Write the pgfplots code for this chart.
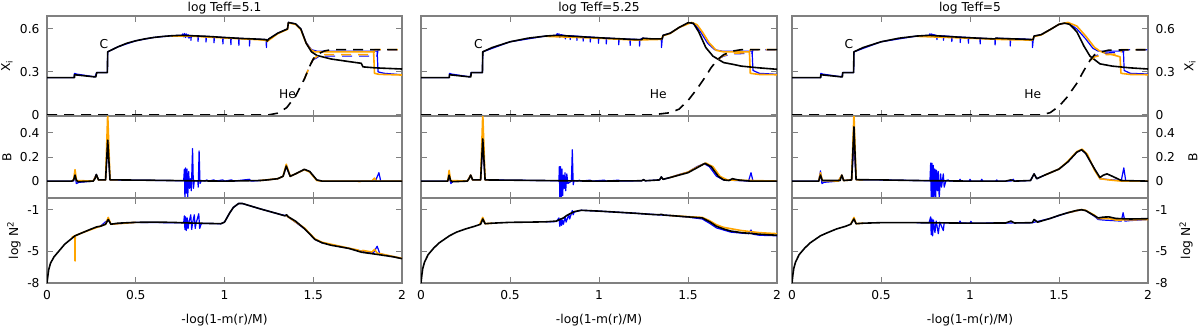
\documentclass[border=0pt]{standalone}
\usepackage{pgfplots}
\pgfplotsset{compat=1.18}
\usepackage{fontspec}
\setmainfont{DejaVu Sans}
\definecolor{fr}{RGB}{128,128,128}
\definecolor{org}{RGB}{255,165,0}
\definecolor{blu}{RGB}{0,0,255}
\newcommand\fs{\fontsize{12.3}{14}\selectfont}

\pgfplotsset{
  every axis title shift=0pt,
  pan/.style={scale only axis, xmin=0, xmax=2, xtick={0,0.5,1,1.5,2}, xticklabels={},
    tick align=inside, xtick pos=both, ytick pos=both, major tick length=6bp,
    axis line style={draw=fr, line width=1.2bp}, every tick/.style={draw=fr, line width=1bp},
    tick label style={font=\fs}, label style={font=\fs}, title style={font=\fs},
    unbounded coords=jump},
  top/.style={pan, height=100bp, ymin=-0.008, ymax=0.69, ytick={0,0.3,0.6}, yticklabels={0,0.3,0.6}},
  mid/.style={pan, height=82bp, ymin=-0.14, ymax=0.54, ytick={0,0.2,0.4}, yticklabels={0,0.2,0.4}},
  bot/.style={pan, height=85bp, ymin=-8, ymax=0.1, ytick={-8,-5,-1}, yticklabels={-8,-5,-1},
    xticklabels={0,0.5,1,1.5,2}, xticklabel style={yshift=-4bp},
    xlabel={-log(1-m(r)/M)}, xlabel style={at={(axis description cs:0.5,0)}, anchor=center, yshift=-37bp}},
  ttl/.style={title={#1}, title style={at={(axis description cs:0.5,1)}, anchor=center, yshift=8bp}},
  c1/.style={width=355bp, yticklabel style={xshift=-4bp}},
  c2/.style={width=356bp, yticklabels={}},
  c3/.style={width=356bp, yticklabel pos=right, yticklabel style={xshift=4bp}},
  yl/.style 2 args={ylabel={#1}, ylabel style={at={(axis description cs:#2,0.5)}, anchor=center}},
  blk/.style={black, line width=1.6bp, line join=round},
  orl/.style={org, line width=1.6bp, line join=round},
  bll/.style={blu, line width=1.2bp, line join=round},
  dsh/.style={dash pattern=on 10bp off 7bp},
}

\begin{document}
\begin{tikzpicture}
\path[use as bounding box] (0,0) rectangle (1200bp,-326bp);

% ---------------- column 1: log Teff=5.1 ----------------
\begin{axis}[top, c1, ttl={log Teff=5.1}, yl={X\textsubscript{i}}{-0.113}, at={(47bp,-116bp)}, anchor=south west]
\addplot[bll] coordinates {(0,0.26)(0.152,0.26)(0.155,0.29)(0.165,0.285)(0.27,0.265)(0.28,0.295)(0.34,0.295)(0.342,0.44)(0.4,0.475)(0.5,0.517)(0.6,0.54)(0.7,0.552)(0.76,0.555)(0.765,0.565)(0.77,0.545)(0.775,0.568)(0.78,0.54)(0.785,0.565)(0.79,0.545)(0.795,0.56)(0.8,0.535)(0.805,0.555)(0.81,0.552)(0.811,0.52)(0.813,0.552)(0.85,0.55)(0.851,0.513)(0.853,0.549)(0.895,0.547)(0.896,0.508)(0.898,0.547)(0.94,0.544)(0.941,0.503)(0.943,0.544)(0.99,0.54)(0.991,0.495)(0.993,0.54)(1.035,0.537)(1.036,0.49)(1.038,0.537)(1.08,0.534)(1.081,0.485)(1.083,0.534)(1.14,0.53)(1.141,0.48)(1.143,0.53)(1.235,0.525)(1.236,0.47)(1.238,0.52)(1.3,0.57)(1.355,0.6)(1.36,0.645)(1.4,0.635)(1.43,0.6)(1.46,0.505)(1.49,0.455)(1.52,0.445)(1.86,0.445)(1.865,0.3)(1.9,0.29)(2,0.28)};
\addplot[orl] coordinates {(0.7,0.55)(0.8,0.55)(1.0,0.537)(1.2,0.524)(1.235,0.52)(1.24,0.512)(1.3,0.567)(1.355,0.597)(1.36,0.642)(1.4,0.632)(1.43,0.595)(1.46,0.5)(1.49,0.45)(1.51,0.44)(1.84,0.44)(1.845,0.29)(1.87,0.283)(2,0.278)};
\addplot[blk] coordinates {(0,0.26)(0.155,0.26)(0.155,0.28)(0.27,0.265)(0.275,0.265)(0.28,0.295)(0.34,0.295)(0.342,0.44)(0.4,0.475)(0.45,0.5)(0.5,0.517)(0.55,0.53)(0.6,0.54)(0.65,0.547)(0.7,0.552)(0.75,0.555)(0.8,0.553)(0.9,0.548)(1.0,0.54)(1.1,0.533)(1.2,0.528)(1.235,0.525)(1.24,0.515)(1.25,0.53)(1.3,0.57)(1.355,0.6)(1.36,0.645)(1.4,0.635)(1.43,0.6)(1.46,0.5)(1.49,0.44)(1.52,0.415)(1.6,0.39)(1.7,0.372)(1.77,0.36)(1.78,0.335)(1.85,0.328)(2,0.32)};
\addplot[bll,dsh] coordinates {(1.45,0.25)(1.48,0.34)(1.5,0.385)(1.53,0.405)(1.56,0.41)(1.86,0.41)(1.865,0.455)(2,0.455)};
\addplot[orl,dsh] coordinates {(1.45,0.25)(1.48,0.34)(1.5,0.39)(1.53,0.415)(1.56,0.42)(1.84,0.42)(1.845,0.455)(2,0.455)};
\addplot[blk,dsh] coordinates {(0,0)(1.25,0)(1.3,0.012)(1.35,0.05)(1.4,0.13)(1.45,0.25)(1.48,0.34)(1.5,0.39)(1.52,0.42)(1.56,0.445)(1.6,0.455)(2,0.455)};
\node[font=\fs] at (axis cs:0.32,0.497) {C};
\node[font=\fs] at (axis cs:1.355,0.145) {He};
\end{axis}

\begin{axis}[mid, c1, yl={B}{-0.113}, at={(47bp,-198bp)}, anchor=south west]
\addplot[bll] coordinates {(0,0)(0.15,0)(0.158,0.06)(0.165,-0.02)(0.18,-0.01)(0.26,0)(0.278,0.055)(0.29,0.01)(0.33,0.01)(0.342,0.3)(0.355,0.01)(0.5,0.008)(0.77,0.003)(0.774,0.1)(0.777,-0.14)(0.781,0.11)(0.785,-0.1)(0.789,0.1)(0.793,-0.13)(0.798,0.08)(0.803,-0.06)(0.808,0.02)(0.813,-0.08)(0.82,0.27)(0.825,-0.06)(0.83,0.005)(0.85,0)(0.852,-0.05)(0.857,0.25)(0.862,-0.02)(0.87,0.005)(0.89,0)(0.9,0.01)(0.91,0)(0.94,0.01)(0.95,0)(0.99,0.01)(1.0,0)(1.04,0.01)(1.05,0)(1.14,0.015)(1.15,0)(1.2,0.005)(1.24,0.01)(1.3,0.02)(1.33,0.04)(1.348,0.12)(1.37,0.04)(1.4,0.06)(1.45,0.095)(1.48,0.078)(1.52,0.008)(1.55,0)(1.85,0)(1.87,0.07)(1.88,0)(2,0)};
\addplot[orl] coordinates {(0.14,0)(0.15,0.01)(0.158,0.095)(0.166,0.005)(0.26,0)(0.278,0.05)(0.29,0.01)(0.33,0.01)(0.342,0.56)(0.355,0.01)(0.4,0.01)(0.5,nan)(1.2,0.005)(1.3,0.02)(1.33,0.04)(1.348,0.14)(1.37,0.04)(1.4,0.06)(1.45,0.095)(1.48,0.075)(1.52,0.005)(1.55,0)(1.75,0)(1.76,-0.005)(1.77,0)(1.83,0)(1.845,0.025)(1.855,0)(2,0)};
\addplot[blk] coordinates {(0,0)(0.14,0)(0.15,0.01)(0.158,0.05)(0.165,0.01)(0.175,-0.005)(0.26,0)(0.27,0.02)(0.278,0.055)(0.29,0.01)(0.33,0.01)(0.342,0.34)(0.355,0.01)(0.4,0.01)(0.6,0.007)(0.8,0.003)(1.0,0)(1.2,0.005)(1.24,0.01)(1.3,0.02)(1.33,0.04)(1.348,0.125)(1.37,0.04)(1.4,0.06)(1.45,0.098)(1.48,0.08)(1.52,0.01)(1.55,0)(2.0,0)};
\end{axis}

\begin{axis}[bot, c1, yl={log N\textsuperscript{2}}{-0.093}, at={(47bp,-283bp)}, anchor=south west]
\addplot[bll] coordinates {(0.3,-2.6)(0.345,-1.95)(0.36,-2.4)(0.5,-2.22)(0.77,-2.27)(0.774,-1.6)(0.777,-2.9)(0.781,-1.7)(0.785,-3.0)(0.79,-1.8)(0.795,-2.8)(0.8,-2.2)(0.81,-1.5)(0.815,-2.9)(0.82,-2.3)(0.83,-1.5)(0.835,-2.8)(0.84,-2.3)(0.855,-1.4)(0.86,-2.8)(0.87,-2.32)(0.98,-2.35)(1.0,-2.2)(1.03,-1.3)(1.05,-0.8)(1.08,-0.42)(1.1,-0.42)(1.2,-0.93)(1.3,-1.4)(1.35,-1.6)(1.45,-2.82)(1.51,-3.85)(1.55,-4.17)(1.7,-4.7)(1.8,-5.05)(1.84,-5.1)(1.86,-4.5)(1.875,-5.2)(1.95,-5.5)(2,-5.65)};
\addplot[orl] coordinates {(0.14,-3.65)(0.157,-3.5)(0.158,-5.9)(0.159,-3.5)(0.2,-3.2)(0.33,-2.4)(0.345,-1.75)(0.36,-2.4)(0.5,-2.22)(0.6,nan)(1.35,-1.6)(1.45,-2.75)(1.51,-3.8)(1.55,-4.12)(1.7,-4.68)(1.75,-4.85)(1.77,-5.0)(1.78,-4.9)(1.83,-5.05)(1.845,-4.8)(1.86,-5.15)(2,-5.65)};
\addplot[blk] coordinates {(0,-8)(0.005,-7.3)(0.01,-6.7)(0.02,-6.1)(0.04,-5.5)(0.065,-5.0)(0.1,-4.3)(0.158,-3.5)(0.2,-3.2)(0.25,-2.85)(0.28,-2.65)(0.3,-2.6)(0.33,-2.4)(0.345,-1.95)(0.36,-2.4)(0.4,-2.3)(0.5,-2.22)(0.6,-2.2)(0.7,-2.22)(0.8,-2.28)(0.9,-2.32)(0.98,-2.35)(1.0,-2.2)(1.03,-1.3)(1.05,-0.8)(1.08,-0.42)(1.1,-0.42)(1.2,-0.93)(1.3,-1.4)(1.34,-1.6)(1.35,-1.5)(1.36,-1.7)(1.4,-2.1)(1.45,-2.82)(1.51,-3.85)(1.55,-4.17)(1.6,-4.4)(1.7,-4.7)(1.773,-5.07)(1.85,-5.25)(1.95,-5.5)(2,-5.68)};
\end{axis}

% ---------------- column 2: log Teff=5.25 ----------------
\begin{axis}[top, c2, ttl={log Teff=5.25}, at={(421bp,-116bp)}, anchor=south west]
\addplot[bll] coordinates {(0,0.26)(0.159,0.26)(0.16,0.29)(0.17,0.285)(0.275,0.265)(0.282,0.295)(0.345,0.295)(0.347,0.44)(0.5,0.51)(0.7,0.55)(0.76,0.555)(0.765,0.567)(0.77,0.548)(0.775,0.566)(0.78,0.54)(0.785,0.56)(0.81,0.553)(0.811,0.53)(0.813,0.553)(0.837,0.552)(0.838,0.525)(0.84,0.552)(0.875,0.549)(0.876,0.52)(0.878,0.549)(0.91,0.546)(0.911,0.515)(0.913,0.546)(0.95,0.543)(0.951,0.508)(0.953,0.543)(0.996,0.539)(0.997,0.5)(0.999,0.539)(1.04,0.536)(1.041,0.495)(1.043,0.536)(1.11,0.531)(1.111,0.49)(1.113,0.531)(1.174,0.528)(1.175,0.485)(1.177,0.528)(1.227,0.526)(1.228,0.48)(1.23,0.526)(1.245,0.535)(1.3,0.53)(1.35,0.53)(1.351,0.47)(1.355,0.53)(1.36,0.555)(1.4,0.57)(1.45,0.61)(1.51,0.643)(1.54,0.63)(1.57,0.58)(1.61,0.5)(1.65,0.455)(1.69,0.445)(1.86,0.445)(1.865,0.31)(1.9,0.29)(2,0.283)};
\addplot[orl] coordinates {(0.7,0.548)(1.0,0.535)(1.2,0.522)(1.35,0.527)(1.36,0.552)(1.4,0.568)(1.45,0.61)(1.52,0.645)(1.55,0.63)(1.58,0.58)(1.62,0.5)(1.66,0.45)(1.7,0.44)(1.845,0.44)(1.85,0.29)(1.9,0.282)(2,0.28)};
\addplot[blk] coordinates {(0,0.26)(0.159,0.26)(0.16,0.28)(0.275,0.265)(0.28,0.265)(0.282,0.295)(0.345,0.295)(0.347,0.44)(0.4,0.47)(0.5,0.51)(0.6,0.535)(0.7,0.55)(0.76,0.555)(0.8,0.553)(0.9,0.545)(1.0,0.538)(1.1,0.532)(1.2,0.526)(1.24,0.525)(1.245,0.535)(1.3,0.53)(1.355,0.53)(1.36,0.555)(1.4,0.57)(1.45,0.61)(1.5,0.643)(1.53,0.64)(1.56,0.58)(1.6,0.47)(1.64,0.41)(1.7,0.365)(1.755,0.352)(1.8,0.34)(1.9,0.328)(2,0.318)};
\addplot[bll,dsh] coordinates {(1.67,0.39)(1.7,0.41)(1.75,0.425)(1.86,0.43)(1.865,0.455)(2,0.455)};
\addplot[orl,dsh] coordinates {(1.67,0.39)(1.7,0.415)(1.75,0.43)(1.845,0.435)(1.85,0.455)(2,0.455)};
\addplot[blk,dsh] coordinates {(0,0)(1.3,0)(1.4,0.015)(1.45,0.04)(1.5,0.1)(1.55,0.18)(1.6,0.27)(1.63,0.33)(1.67,0.39)(1.7,0.42)(1.75,0.445)(1.8,0.455)(2,0.455)};
\node[font=\fs] at (axis cs:0.322,0.497) {C};
\node[font=\fs] at (axis cs:1.333,0.145) {He};
\end{axis}

\begin{axis}[mid, c2, at={(421bp,-198bp)}, anchor=south west]
\addplot[bll] coordinates {(0,0)(0.15,0)(0.158,0.04)(0.168,-0.02)(0.18,0)(0.26,0)(0.279,0.05)(0.29,0.01)(0.335,0.01)(0.347,0.3)(0.36,0.01)(0.5,0.008)(0.775,0.003)(0.777,0.12)(0.78,-0.14)(0.784,0.12)(0.788,-0.13)(0.792,0.1)(0.796,-0.12)(0.8,0.05)(0.805,-0.06)(0.809,0.07)(0.813,-0.08)(0.819,0.06)(0.825,-0.02)(0.845,0)(0.85,0.26)(0.855,-0.03)(0.86,0.005)(0.88,0)(0.89,0.008)(0.9,0)(0.95,0.008)(0.96,0)(1.03,0.008)(1.04,0)(1.11,0.008)(1.12,0)(1.24,0.003)(1.25,0.012)(1.26,0.003)(1.34,0.01)(1.35,0.035)(1.36,0.015)(1.4,0.03)(1.45,0.055)(1.5,0.075)(1.55,0.12)(1.59,0.145)(1.62,0.12)(1.66,0.04)(1.7,0.01)(1.84,0)(1.854,0.07)(1.865,0)(2,0)};
\addplot[orl] coordinates {(0.14,0)(0.15,0)(0.158,0.09)(0.166,0.005)(0.26,0)(0.279,0.05)(0.29,0.01)(0.335,0.01)(0.347,0.56)(0.36,0.01)(0.4,0.01)(0.5,nan)(1.4,0.03)(1.5,0.075)(1.55,0.115)(1.6,0.15)(1.64,0.12)(1.68,0.04)(1.72,0.01)(2,0)};
\addplot[blk] coordinates {(0,0)(0.15,0)(0.158,0.05)(0.166,0.005)(0.175,-0.005)(0.26,0)(0.27,0.02)(0.279,0.05)(0.29,0.01)(0.335,0.01)(0.347,0.35)(0.36,0.01)(0.5,0.008)(0.8,0.003)(1.0,0)(1.24,0.003)(1.25,0.012)(1.26,0.003)(1.34,0.01)(1.35,0.035)(1.36,0.015)(1.4,0.03)(1.5,0.07)(1.55,0.11)(1.595,0.147)(1.63,0.12)(1.67,0.04)(1.7,0.01)(1.73,0.005)(1.75,0.02)(1.78,0.01)(1.85,0)(2,0)};
\end{axis}

\begin{axis}[bot, c2, at={(421bp,-283bp)}, anchor=south west]
\addplot[bll] coordinates {(0.7,-2.17)(0.76,-2.15)(0.775,-1.8)(0.78,-2.6)(0.785,-1.9)(0.79,-2.5)(0.795,-2.0)(0.8,-2.4)(0.81,-1.7)(0.815,-2.2)(0.83,-1.5)(0.835,-1.9)(0.85,-1.1)(0.855,-1.5)(0.86,-1.25)(0.9,-1.07)(1.0,-1.15)(1.2,-1.35)(1.4,-1.57)(1.5,-1.72)(1.58,-1.9)(1.62,-2.3)(1.66,-2.75)(1.7,-2.95)(1.74,-3.15)(1.8,-3.25)(1.84,-3.3)(1.854,-2.95)(1.865,-3.35)(1.9,-3.45)(2,-3.5)};
\addplot[orl] coordinates {(0.33,-2.4)(0.347,-1.75)(0.36,-2.35)(0.4,-2.3)(0.5,nan)(1.4,-1.57)(1.5,-1.68)(1.58,-1.75)(1.62,-2.05)(1.66,-2.45)(1.7,-2.7)(1.8,-3.0)(1.9,-3.2)(2,-3.3)};
\addplot[blk] coordinates {(0,-8)(0.005,-7.2)(0.01,-6.6)(0.02,-6.0)(0.04,-5.3)(0.07,-4.7)(0.1,-4.2)(0.16,-3.5)(0.2,-3.15)(0.25,-2.85)(0.3,-2.6)(0.335,-2.4)(0.347,-1.9)(0.36,-2.35)(0.4,-2.3)(0.5,-2.22)(0.6,-2.2)(0.7,-2.17)(0.76,-2.1)(0.8,-1.8)(0.82,-1.55)(0.86,-1.2)(0.9,-1.07)(1.0,-1.15)(1.1,-1.25)(1.2,-1.35)(1.3,-1.47)(1.34,-1.5)(1.35,-1.45)(1.36,-1.52)(1.4,-1.57)(1.5,-1.7)(1.58,-1.8)(1.62,-2.15)(1.66,-2.6)(1.7,-2.85)(1.74,-3.05)(1.8,-3.2)(1.9,-3.35)(2,-3.45)};
\end{axis}

% ---------------- column 3: log Teff=5 ----------------
\begin{axis}[top, c3, ttl={log Teff=5}, yl={X\textsubscript{i}}{1.118}, at={(792bp,-116bp)}, anchor=south west]
\addplot[bll] coordinates {(0,0.26)(0.161,0.26)(0.162,0.29)(0.17,0.285)(0.28,0.265)(0.285,0.295)(0.346,0.295)(0.348,0.44)(0.5,0.51)(0.7,0.55)(0.77,0.555)(0.775,0.566)(0.78,0.545)(0.785,0.565)(0.79,0.55)(0.795,0.56)(0.813,0.553)(0.814,0.525)(0.816,0.553)(0.85,0.551)(0.851,0.52)(0.853,0.551)(0.897,0.547)(0.898,0.512)(0.9,0.547)(0.944,0.543)(0.945,0.505)(0.947,0.543)(0.99,0.54)(0.991,0.5)(0.993,0.54)(1.056,0.535)(1.057,0.495)(1.059,0.535)(1.14,0.53)(1.141,0.488)(1.143,0.535)(1.225,0.532)(1.226,0.48)(1.228,0.532)(1.3,0.53)(1.35,0.525)(1.351,0.47)(1.355,0.525)(1.36,0.55)(1.4,0.56)(1.45,0.595)(1.5,0.632)(1.55,0.643)(1.6,0.6)(1.65,0.53)(1.69,0.465)(1.72,0.445)(1.862,0.445)(1.866,0.31)(1.9,0.29)(2,0.285)};
\addplot[orl] coordinates {(0.7,0.548)(1.0,0.535)(1.2,0.525)(1.35,0.522)(1.36,0.547)(1.4,0.558)(1.5,0.632)(1.55,0.645)(1.6,0.62)(1.65,0.55)(1.7,0.47)(1.73,0.445)(1.76,0.43)(1.8,0.42)(1.843,0.405)(1.848,0.29)(1.9,0.282)(2,0.28)};
\addplot[blk] coordinates {(0,0.26)(0.161,0.26)(0.162,0.28)(0.28,0.265)(0.283,0.265)(0.285,0.295)(0.346,0.295)(0.348,0.44)(0.4,0.47)(0.5,0.51)(0.6,0.535)(0.7,0.55)(0.77,0.555)(0.8,0.553)(0.9,0.545)(1.0,0.538)(1.14,0.53)(1.145,0.535)(1.2,0.532)(1.3,0.528)(1.355,0.525)(1.36,0.55)(1.4,0.56)(1.45,0.595)(1.5,0.632)(1.53,0.64)(1.56,0.632)(1.6,0.58)(1.64,0.48)(1.674,0.41)(1.73,0.356)(1.8,0.34)(1.9,0.328)(2,0.32)};
\addplot[bll,dsh] coordinates {(1.674,0.38)(1.7,0.41)(1.75,0.43)(1.862,0.44)(1.866,0.455)(2,0.455)};
\addplot[orl,dsh] coordinates {(1.674,0.38)(1.7,0.405)(1.75,0.42)(1.848,0.425)(1.85,0.455)(2,0.455)};
\addplot[blk,dsh] coordinates {(0,0)(1.4,0)(1.45,0.015)(1.5,0.06)(1.543,0.12)(1.6,0.22)(1.64,0.31)(1.674,0.38)(1.7,0.42)(1.74,0.44)(1.78,0.452)(2,0.455)};
\node[font=\fs] at (axis cs:0.32,0.497) {C};
\node[font=\fs] at (axis cs:1.352,0.145) {He};
\end{axis}

\begin{axis}[mid, c3, yl={B}{1.126}, at={(792bp,-198bp)}, anchor=south west]
\addplot[bll] coordinates {(0,0)(0.15,0)(0.16,0.085)(0.168,-0.02)(0.18,-0.01)(0.26,0)(0.28,0.05)(0.29,0.005)(0.335,0.01)(0.348,0.3)(0.36,0.012)(0.5,0.01)(0.775,0.003)(0.779,0.15)(0.782,-0.14)(0.786,0.15)(0.79,-0.14)(0.794,0.13)(0.798,-0.14)(0.803,0.1)(0.807,-0.14)(0.812,0.09)(0.817,-0.08)(0.822,0.08)(0.827,-0.14)(0.835,0.06)(0.84,-0.05)(0.85,0.06)(0.855,-0.05)(0.865,0.005)(0.878,0.01)(0.885,0)(0.94,0)(0.944,0.015)(0.95,0)(0.995,0)(1.0,0.015)(1.005,0)(1.06,0)(1.066,0.015)(1.072,0)(1.145,0)(1.15,0.01)(1.155,0)(1.23,0)(1.243,0.015)(1.25,0)(1.34,0.005)(1.36,0.06)(1.375,0.02)(1.42,0.05)(1.5,0.1)(1.55,0.16)(1.6,0.24)(1.627,0.26)(1.65,0.23)(1.7,0.1)(1.73,0.02)(1.8,0.01)(1.85,0.005)(1.864,0.11)(1.875,0)(2,0)};
\addplot[orl] coordinates {(0.15,0)(0.16,0.07)(0.17,0.005)(0.26,0)(0.28,0.05)(0.29,0.005)(0.335,0.01)(0.348,0.56)(0.36,0.012)(0.4,0.01)(0.5,nan)(1.42,0.05)(1.5,0.1)(1.55,0.165)(1.6,0.245)(1.63,0.265)(1.66,0.22)(1.7,0.09)(1.73,0.02)(1.78,0.01)(1.85,0)(2,0)};
\addplot[blk] coordinates {(0,0)(0.15,0)(0.16,0.05)(0.17,0.005)(0.27,0.005)(0.28,0.05)(0.29,0.005)(0.335,0.01)(0.348,0.45)(0.36,0.012)(0.5,0.01)(0.7,0.005)(0.8,0.003)(1.0,0)(1.2,0)(1.23,0.01)(1.25,0)(1.34,0.005)(1.36,0.06)(1.375,0.02)(1.42,0.05)(1.5,0.1)(1.55,0.16)(1.6,0.24)(1.627,0.26)(1.65,0.23)(1.7,0.1)(1.73,0.03)(1.75,0.05)(1.77,0.06)(1.8,0.04)(1.85,0.005)(2,0)};
\end{axis}

\begin{axis}[bot, c3, yl={log N\textsuperscript{2}}{1.107}, at={(792bp,-283bp)}, anchor=south west]
\addplot[bll] coordinates {(0.7,-2.25)(0.77,-2.25)(0.779,-1.7)(0.782,-3.4)(0.786,-1.9)(0.79,-3.5)(0.795,-2.0)(0.803,-3.2)(0.81,-2.1)(0.822,-3.3)(0.83,-2.2)(0.85,-3.0)(0.855,-2.25)(0.94,-2.28)(0.944,-2.1)(0.95,-2.28)(1.0,-2.3)(1.005,-2.12)(1.01,-2.3)(1.2,-2.28)(1.35,-2.25)(1.45,-1.85)(1.55,-1.3)(1.627,-1.02)(1.65,-1.1)(1.7,-1.65)(1.72,-1.95)(1.75,-2.0)(1.8,-2.05)(1.85,-2.1)(1.86,-1.3)(1.87,-2.1)(1.9,-2.05)(2,-1.95)};
\addplot[orl] coordinates {(0.33,-2.4)(0.348,-1.75)(0.36,-2.35)(0.4,-2.3)(0.5,nan)(1.55,-1.3)(1.627,-1.0)(1.65,-1.08)(1.7,-1.55)(1.72,-1.85)(1.78,-1.85)(1.82,-2.0)(2,-1.95)};
\addplot[blk] coordinates {(0,-8)(0.005,-7.2)(0.01,-6.6)(0.02,-6.0)(0.04,-5.3)(0.07,-4.7)(0.1,-4.2)(0.16,-3.5)(0.2,-3.2)(0.25,-2.85)(0.3,-2.6)(0.33,-2.4)(0.348,-1.9)(0.36,-2.35)(0.4,-2.3)(0.5,-2.25)(0.7,-2.25)(0.9,-2.28)(1.0,-2.3)(1.2,-2.28)(1.23,-2.1)(1.25,-2.28)(1.35,-2.25)(1.36,-1.95)(1.38,-2.2)(1.45,-1.85)(1.5,-1.55)(1.55,-1.3)(1.6,-1.08)(1.627,-1.02)(1.65,-1.1)(1.7,-1.6)(1.72,-1.8)(1.75,-1.72)(1.78,-1.7)(1.82,-1.85)(1.9,-1.9)(2,-1.87)};
\end{axis}
\end{tikzpicture}
\end{document}
